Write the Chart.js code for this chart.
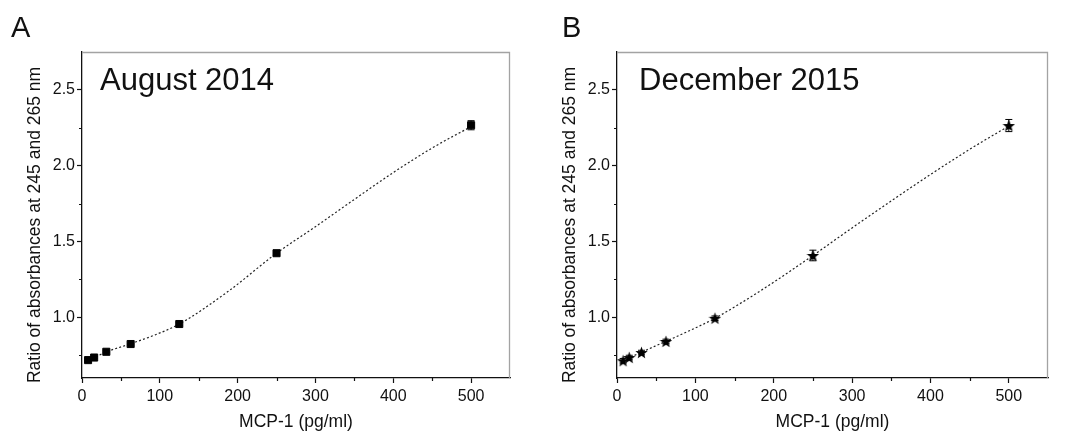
<!DOCTYPE html>
<html>
<head>
<meta charset="utf-8">
<script src="https://cdn.jsdelivr.net/npm/chart.js@4.4.1/dist/chart.umd.min.js"></script>
<style>
  html, body { margin: 0; padding: 0; background: #fff; }
  body { width: 1067px; height: 433px; position: relative; overflow: hidden; }
  .panel { position: absolute; top: 0; height: 433px; }
  #panelA { left: 0;     width: 533px; }
  #panelB { left: 535px; width: 532px; }
</style>
</head>
<body>
<div class="panel" id="panelA"><canvas id="chartA"></canvas></div>
<div class="panel" id="panelB"><canvas id="chartB"></canvas></div>

<script>
// ─────────────────────────────────────────
//  DATA
// ─────────────────────────────────────────
const doses        = [7.8, 15.6, 31.25, 62.5, 125, 250, 500];   // MCP-1 (pg/ml)
const ratioAug2014 = [0.718, 0.735, 0.773, 0.824, 0.956, 1.423, 2.267];
const errAug2014   = [0.005, 0.005, 0.006, 0.006, 0.008, 0.010, 0.030];
const ratioDec2015 = [0.714, 0.735, 0.768, 0.841, 0.994, 1.408, 2.265];
const errDec2015   = [0.015, 0.015, 0.015, 0.015, 0.015, 0.035, 0.040];

// fitted curves
const fitDoses   = [7.8, 15.6, 31.25, 62.5, 93.75, 125, 187.5, 250, 300, 350, 400, 450, 500];
const fitAug2014 = [0.718, 0.735, 0.772, 0.826, 0.884, 0.956, 1.170, 1.423, 1.598, 1.778, 1.955, 2.117, 2.258];
const fitDec2015 = [0.714, 0.733, 0.770, 0.842, 0.915, 0.994, 1.190, 1.408, 1.590, 1.768, 1.942, 2.108, 2.262];

const xMajorTicks = [0, 100, 200, 300, 400, 500];
const xMinorTicks = [50, 150, 250, 350, 450];
const yMajorTicks = [1.0, 1.5, 2.0, 2.5];
const yMinorTicks = [0.75, 1.25, 1.75, 2.25];

const X_MIN = 0,   X_MAX = 550;
const Y_MIN = 0.6, Y_MAX = 2.75;

const X_TITLE = 'MCP-1 (pg/ml)';
const Y_TITLE = 'Ratio of absorbances at 245 and 265 nm';

// ─────────────────────────────────────────
//  STYLE
// ─────────────────────────────────────────
const FONT     = "'Liberation Sans', Arial, Helvetica, sans-serif";
const INK      = '#111';
const BOX_GREY = '#a3a3a3';

// filled five-point star for panel B
function makeStar(size) {
  const c = document.createElement('canvas');
  c.width = size; c.height = size;
  const g = c.getContext('2d');
  const cx = size / 2, cy = size / 2 + 0.6;
  const R = size / 2, r = R * 0.42;
  g.beginPath();
  for (let i = 0; i < 10; i++) {
    const rad = i % 2 ? r : R;
    const a = -Math.PI / 2 + i * Math.PI / 5;
    g.lineTo(cx + rad * Math.cos(a), cy + rad * Math.sin(a));
  }
  g.closePath();
  g.fillStyle = '#000';
  g.fill();
  return c;
}
const starImg = makeStar(13);

// ─────────────────────────────────────────
//  DECORATION PLUGIN — box, minor ticks, error bars, labels
// ─────────────────────────────────────────
const decorPlugin = {
  id: 'decor',
  beforeDatasetsDraw(chart, args, o) {
    const { ctx } = chart;
    const xs = chart.scales.x, ys = chart.scales.y;
    ctx.save();
    ctx.strokeStyle = '#000';
    ctx.lineWidth = 1;
    o.values.forEach((v, i) => {
      const err = o.errors[i];
      const px  = xs.getPixelForValue(o.doses[i]);
      const top = ys.getPixelForValue(v + err);
      const bot = ys.getPixelForValue(v - err);
      ctx.beginPath();
      ctx.moveTo(px, top); ctx.lineTo(px, bot);
      ctx.moveTo(px - 3.5, top); ctx.lineTo(px + 3.5, top);
      ctx.moveTo(px - 3.5, bot); ctx.lineTo(px + 3.5, bot);
      ctx.stroke();
    });
    ctx.restore();
  },
  afterDraw(chart, args, o) {
    const { ctx, chartArea: a } = chart;
    const xs = chart.scales.x, ys = chart.scales.y;
    ctx.save();

    // grey frame on top and right
    ctx.strokeStyle = BOX_GREY;
    ctx.lineWidth = 1.3;
    ctx.beginPath();
    ctx.moveTo(a.left, a.top + 0.5);
    ctx.lineTo(a.right - 0.5, a.top + 0.5);
    ctx.lineTo(a.right - 0.5, a.bottom);
    ctx.stroke();

    // minor ticks
    ctx.strokeStyle = INK;
    ctx.lineWidth = 1.2;
    ctx.beginPath();
    xMinorTicks.forEach(v => {
      const px = Math.round(xs.getPixelForValue(v)) + 0.5;
      ctx.moveTo(px, a.bottom); ctx.lineTo(px, a.bottom + 3);
    });
    yMinorTicks.forEach(v => {
      const py = Math.round(ys.getPixelForValue(v)) + 0.5;
      ctx.moveTo(a.left, py); ctx.lineTo(a.left - 3, py);
    });
    ctx.stroke();

    ctx.fillStyle = INK;

    // y-axis title (sits a little below the plot centre in the original)
    ctx.save();
    ctx.translate(35, (a.top + a.bottom) / 2 + 10);
    ctx.rotate(-Math.PI / 2);
    ctx.font = `17.5px ${FONT}`;
    ctx.textAlign = 'center';
    ctx.textBaseline = 'middle';
    ctx.fillText(Y_TITLE, 0, 0);
    ctx.restore();

    // panel letter
    ctx.font = `29px ${FONT}`;
    ctx.textBaseline = 'alphabetic';
    ctx.fillText(o.panel, o.panelX, 37);

    // caption inside the plot
    ctx.font = `31px ${FONT}`;
    ctx.fillText(o.caption, a.left + o.captionDx, a.top + 38);
    ctx.restore();
  },
};

// ─────────────────────────────────────────
//  CHART FACTORY
// ─────────────────────────────────────────
function buildChart(canvasId, cfg) {
  return new Chart(document.getElementById(canvasId), {
    type: 'scatter',
    data: {
      datasets: [
        {
          label: 'fit',
          data: fitDoses.map((x, i) => ({ x, y: cfg.fit[i] })),
          showLine: true,
          borderColor: '#222',
          borderWidth: 1.2,
          borderDash: [2, 2.2],
          pointRadius: 0,
          cubicInterpolationMode: 'monotone',
          order: 2,
        },
        {
          label: 'measured',
          data: doses.map((x, i) => ({ x, y: cfg.values[i] })),
          showLine: false,
          pointStyle: cfg.pointStyle,
          pointRadius: cfg.pointRadius,
          backgroundColor: '#000',
          borderColor: '#000',
          borderWidth: 1,
          order: 1,
        },
      ],
    },
    options: {
      responsive: true,
      maintainAspectRatio: false,
      animation: false,
      events: [],
      layout: { padding: { top: 52, right: cfg.padRight, left: 0, bottom: 0 } },
      plugins: {
        legend:  { display: false },
        tooltip: { enabled: false },
        decor: {
          panel: cfg.panel, panelX: cfg.panelX,
          caption: cfg.caption, captionDx: cfg.captionDx,
          doses, values: cfg.values, errors: cfg.errors,
        },
      },
      scales: {
        x: {
          type: 'linear', min: X_MIN, max: X_MAX,
          afterBuildTicks: s => { s.ticks = xMajorTicks.map(v => ({ value: v })); },
          afterFit: s => { s.height = 55; },
          grid:   { drawOnChartArea: false, drawTicks: true, tickLength: 5, color: INK, tickWidth: 1.2 },
          border: { color: INK, width: 1.3 },
          ticks:  { color: INK, font: { family: FONT, size: 16 }, padding: 4, maxRotation: 0,
                    callback: v => String(v) },
          title:  { display: true, text: X_TITLE, color: INK,
                    font: { family: FONT, size: 17.5 }, padding: { top: 0, bottom: 0 } },
        },
        y: {
          type: 'linear', min: Y_MIN, max: Y_MAX,
          afterBuildTicks: s => { s.ticks = yMajorTicks.map(v => ({ value: v })); },
          afterFit: s => { s.width = 82; },
          grid:   { drawOnChartArea: false, drawTicks: true, tickLength: 5, color: INK, tickWidth: 1.2 },
          border: { color: INK, width: 1.3 },
          ticks:  { color: INK, font: { family: FONT, size: 16 }, padding: 2,
                    callback: v => v.toFixed(1) },
        },
      },
    },
    plugins: [decorPlugin],
  });
}

// ─────────────────────────────────────────
//  PANELS
// ─────────────────────────────────────────
buildChart('chartA', {
  panel: 'A', panelX: 11, caption: 'August 2014', captionDx: 18,
  values: ratioAug2014, errors: errAug2014, fit: fitAug2014,
  pointStyle: 'rect', pointRadius: 5, padRight: 23,
});

buildChart('chartB', {
  panel: 'B', panelX: 27, caption: 'December 2015', captionDx: 22,
  values: ratioDec2015, errors: errDec2015, fit: fitDec2015,
  pointStyle: starImg, pointRadius: 6, padRight: 19,
});
</script>
</body>
</html>
